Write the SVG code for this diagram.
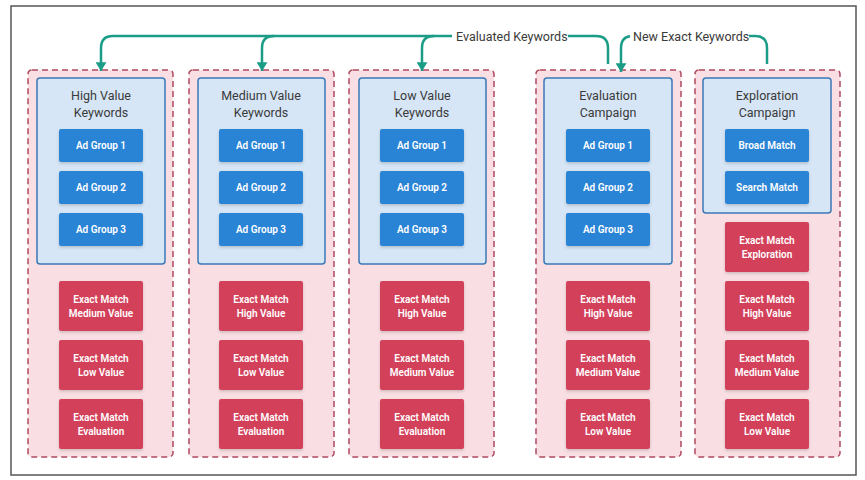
<svg xmlns="http://www.w3.org/2000/svg" width="865" height="480" viewBox="0 0 865 480">
<defs>
<style>
.frame{fill:#fff;stroke:#555;stroke-width:1.5}
.cont{fill:#f9dfe3;stroke:#b04a5f;stroke-width:1.5;stroke-dasharray:6 4}
.inner{fill:#d6e6f6;stroke:#3b78b6;stroke-width:1.5}
.blue{fill:#2b84d6;filter:url(#sh)}
.red{fill:#d3405a;filter:url(#sh)}
.title{font-family:Roboto,"Liberation Sans",sans-serif;font-size:12.5px;fill:#3a3a3a;text-anchor:middle}
.btn{font-family:Roboto,"Liberation Sans",sans-serif;font-size:10px;font-weight:600;fill:#fff;text-anchor:middle}
.lbl{font-family:Roboto,"Liberation Sans",sans-serif;font-size:12.5px;fill:#3a3a3a}
.conn{fill:none;stroke:#1b9c87;stroke-width:2.5}
</style>
<filter id="sh" x="-10%" y="-10%" width="120%" height="130%">
<feDropShadow dx="0" dy="1.5" stdDeviation="1.5" flood-color="#000" flood-opacity="0.18"/>
</filter>
<marker id="arr" markerUnits="userSpaceOnUse" markerWidth="10" markerHeight="11" refX="8" refY="5" orient="auto" viewBox="0 0 8 10">
<path d="M0,0 L8,5 L0,10 Z" fill="#1b9c87"/>
</marker>
</defs>
<rect class="frame" x="11" y="6" width="845" height="469"/>

<g id="col-high">
<rect class="cont" x="28" y="70" width="145" height="387" rx="4"/>
<rect class="inner" x="37" y="78" width="128" height="186" rx="3"/>
<text class="title" x="101" y="99.5">High Value</text>
<text class="title" x="101" y="116.5">Keywords</text>
<rect class="blue" x="59" y="129" width="84" height="33" rx="2"/><text class="btn" x="101" y="149">Ad Group 1</text>
<rect class="blue" x="59" y="171" width="84" height="33" rx="2"/><text class="btn" x="101" y="191">Ad Group 2</text>
<rect class="blue" x="59" y="213" width="84" height="33" rx="2"/><text class="btn" x="101" y="233">Ad Group 3</text>
<rect class="red" x="59" y="281" width="84" height="50" rx="2"/><text class="btn" x="101" y="302.5">Exact Match</text><text class="btn" x="101" y="316.5">Medium Value</text>
<rect class="red" x="59" y="340" width="84" height="50" rx="2"/><text class="btn" x="101" y="361.5">Exact Match</text><text class="btn" x="101" y="375.5">Low Value</text>
<rect class="red" x="59" y="399" width="84" height="50" rx="2"/><text class="btn" x="101" y="420.5">Exact Match</text><text class="btn" x="101" y="434.5">Evaluation</text>
</g>

<g id="col-medium">
<rect class="cont" x="189" y="70" width="145" height="387" rx="4"/>
<rect class="inner" x="198" y="78" width="127" height="186" rx="3"/>
<text class="title" x="261" y="99.5">Medium Value</text>
<text class="title" x="261" y="116.5">Keywords</text>
<rect class="blue" x="219" y="129" width="84" height="33" rx="2"/><text class="btn" x="261" y="149">Ad Group 1</text>
<rect class="blue" x="219" y="171" width="84" height="33" rx="2"/><text class="btn" x="261" y="191">Ad Group 2</text>
<rect class="blue" x="219" y="213" width="84" height="33" rx="2"/><text class="btn" x="261" y="233">Ad Group 3</text>
<rect class="red" x="219" y="281" width="84" height="50" rx="2"/><text class="btn" x="261" y="302.5">Exact Match</text><text class="btn" x="261" y="316.5">High Value</text>
<rect class="red" x="219" y="340" width="84" height="50" rx="2"/><text class="btn" x="261" y="361.5">Exact Match</text><text class="btn" x="261" y="375.5">Low Value</text>
<rect class="red" x="219" y="399" width="84" height="50" rx="2"/><text class="btn" x="261" y="420.5">Exact Match</text><text class="btn" x="261" y="434.5">Evaluation</text>
</g>

<g id="col-low">
<rect class="cont" x="349" y="70" width="145" height="387" rx="4"/>
<rect class="inner" x="359" y="78" width="127" height="186" rx="3"/>
<text class="title" x="422" y="99.5">Low Value</text>
<text class="title" x="422" y="116.5">Keywords</text>
<rect class="blue" x="380" y="129" width="84" height="33" rx="2"/><text class="btn" x="422" y="149">Ad Group 1</text>
<rect class="blue" x="380" y="171" width="84" height="33" rx="2"/><text class="btn" x="422" y="191">Ad Group 2</text>
<rect class="blue" x="380" y="213" width="84" height="33" rx="2"/><text class="btn" x="422" y="233">Ad Group 3</text>
<rect class="red" x="380" y="281" width="84" height="50" rx="2"/><text class="btn" x="422" y="302.5">Exact Match</text><text class="btn" x="422" y="316.5">High Value</text>
<rect class="red" x="380" y="340" width="84" height="50" rx="2"/><text class="btn" x="422" y="361.5">Exact Match</text><text class="btn" x="422" y="375.5">Medium Value</text>
<rect class="red" x="380" y="399" width="84" height="50" rx="2"/><text class="btn" x="422" y="420.5">Exact Match</text><text class="btn" x="422" y="434.5">Evaluation</text>
</g>

<g id="col-evaluation">
<rect class="cont" x="536" y="70" width="145" height="387" rx="4"/>
<rect class="inner" x="544" y="78" width="128" height="186" rx="3"/>
<text class="title" x="608" y="99.5">Evaluation</text>
<text class="title" x="608" y="116.5">Campaign</text>
<rect class="blue" x="566" y="129" width="84" height="33" rx="2"/><text class="btn" x="608" y="149">Ad Group 1</text>
<rect class="blue" x="566" y="171" width="84" height="33" rx="2"/><text class="btn" x="608" y="191">Ad Group 2</text>
<rect class="blue" x="566" y="213" width="84" height="33" rx="2"/><text class="btn" x="608" y="233">Ad Group 3</text>
<rect class="red" x="566" y="281" width="84" height="50" rx="2"/><text class="btn" x="608" y="302.5">Exact Match</text><text class="btn" x="608" y="316.5">High Value</text>
<rect class="red" x="566" y="340" width="84" height="50" rx="2"/><text class="btn" x="608" y="361.5">Exact Match</text><text class="btn" x="608" y="375.5">Medium Value</text>
<rect class="red" x="566" y="399" width="84" height="50" rx="2"/><text class="btn" x="608" y="420.5">Exact Match</text><text class="btn" x="608" y="434.5">Low Value</text>
</g>

<g id="col-exploration">
<rect class="cont" x="695" y="70" width="145" height="387" rx="4"/>
<rect class="inner" x="703" y="78" width="128" height="135" rx="3"/>
<text class="title" x="767" y="99.5">Exploration</text>
<text class="title" x="767" y="116.5">Campaign</text>
<rect class="blue" x="725" y="129" width="84" height="33" rx="2"/><text class="btn" x="767" y="149">Broad Match</text>
<rect class="blue" x="725" y="171" width="84" height="33" rx="2"/><text class="btn" x="767" y="191">Search Match</text>
<rect class="red" x="725" y="222" width="84" height="50" rx="2"/><text class="btn" x="767" y="243.5">Exact Match</text><text class="btn" x="767" y="257.5">Exploration</text>
<rect class="red" x="725" y="281" width="84" height="50" rx="2"/><text class="btn" x="767" y="302.5">Exact Match</text><text class="btn" x="767" y="316.5">High Value</text>
<rect class="red" x="725" y="340" width="84" height="50" rx="2"/><text class="btn" x="767" y="361.5">Exact Match</text><text class="btn" x="767" y="375.5">Medium Value</text>
<rect class="red" x="725" y="399" width="84" height="50" rx="2"/><text class="btn" x="767" y="420.5">Exact Match</text><text class="btn" x="767" y="434.5">Low Value</text>
</g>

<g id="connectors">
<path class="conn" d="M608,64 V48 Q608,36 596,36 H113 Q101,36 101,48 V71" marker-end="url(#arr)"/>
<path class="conn" d="M274,36 Q262,36 262,48 V71" marker-end="url(#arr)"/>
<path class="conn" d="M434,36 Q422,36 422,48 V71" marker-end="url(#arr)"/>
<rect x="452" y="28" width="116" height="16" fill="#fff"/>
<text class="lbl" x="456" y="40.5">Evaluated Keywords</text>
<path class="conn" d="M767,64 V48 Q767,36 755,36 H633 Q621,36 621,48 V72" marker-end="url(#arr)"/>
<rect x="630" y="28" width="119" height="16" fill="#fff"/>
<text class="lbl" x="633" y="40.5">New Exact Keywords</text>
</g>
</svg>
